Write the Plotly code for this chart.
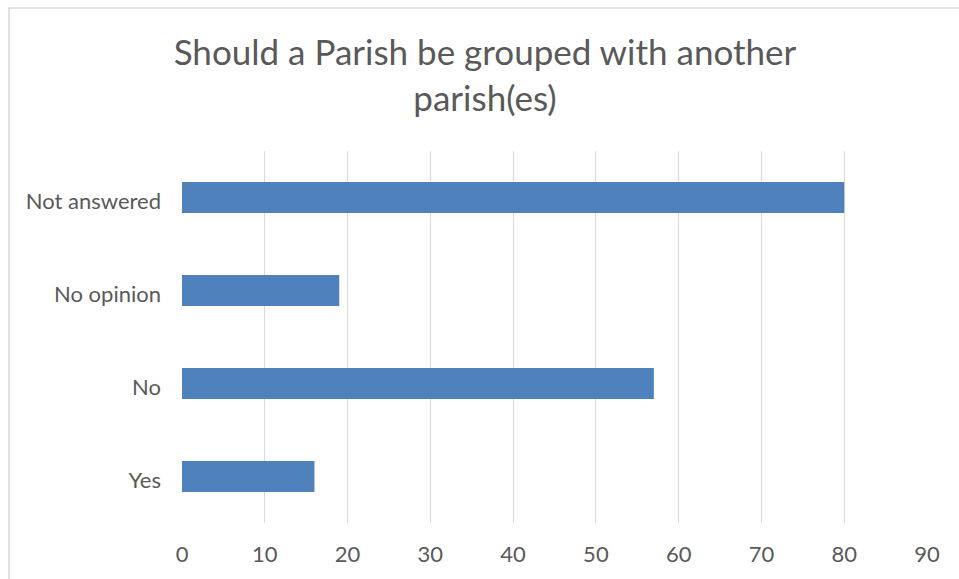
import plotly.graph_objects as go

categories = ["Yes", "No", "No opinion", "Not answered"]
values = [16, 57, 19, 80]
x_ticks = [0, 10, 20, 30, 40, 50, 60, 70, 80, 90]
title_text = "Should a Parish be grouped with another<br>parish(es)"

W, H = 959, 579
L, R, T, B = 182, 32, 151, 56
pw, ph = W - L - R, H - T - B

fig = go.Figure(go.Bar(
    y=categories, x=values, orientation="h",
    marker=dict(color="#4f81bd", line=dict(width=0)),
    width=0.333,
))

fig.update_layout(
    width=W, height=H,
    margin=dict(l=L, r=R, t=T, b=B),
    paper_bgcolor="white", plot_bgcolor="white",
    showlegend=False,
    title=dict(text=title_text, x=(485 - L) / pw, xref="paper", xanchor="center",
               y=1 - 65 / H, yanchor="top",
               font=dict(family="Lato", size=35, color="#595959")),
    font=dict(family="Lato", color="#595959"),
    xaxis=dict(range=[0, 90], tickvals=x_ticks, showgrid=True,
               gridcolor="#d9d9d9", gridwidth=1, zeroline=False,
               showline=False, ticks="", tickfont=dict(size=22, color="#595959"),
               ticklabelstandoff=16),
    yaxis=dict(range=[-0.5, 3.5], showgrid=False, zeroline=False,
               showline=False, ticks="", tickfont=dict(size=22, color="#595959"),
               ticklabelstandoff=20, ticklabelshift=4),
    shapes=[dict(type="rect", xref="paper", yref="paper",
                 x0=(9 - L) / pw, x1=(W + 10 - L) / pw,
                 y0=(H - B - (H + 10)) / ph, y1=(H - B - 8) / ph,
                 line=dict(color="#d9d9d9", width=1.5), fillcolor="rgba(0,0,0,0)",
                 layer="below")],
)

fig.write_html("out.html", config={"displayModeBar": False},
               post_script="document.body.style.margin='0';document.body.style.overflow='hidden';")
